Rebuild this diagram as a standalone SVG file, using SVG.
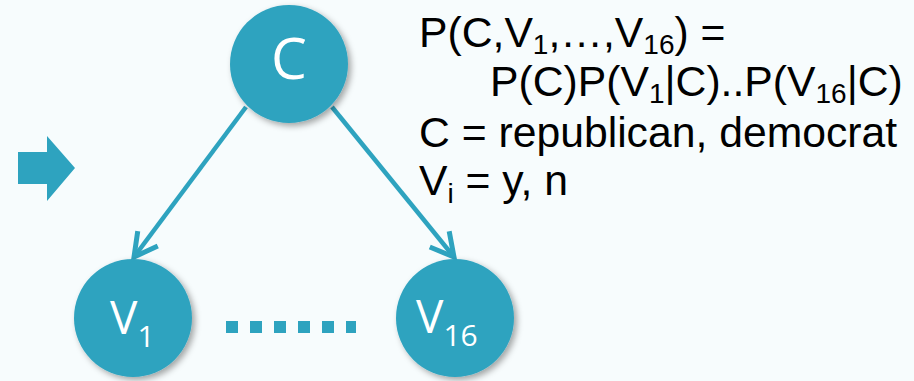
<svg xmlns="http://www.w3.org/2000/svg" width="914" height="381" viewBox="0 0 914 381">
  <style>
    .node { fill: #2EA3BF; filter: url(#shadow); }
    .nlabel { fill: #ffffff; font-family: "Open Sans", "Liberation Sans", sans-serif; }
    .edge { stroke: #2EA3BF; stroke-width: 4.5; fill: none; }
    .eq { fill: #000000; font-family: "Liberation Sans", Arial, sans-serif; font-size: 42.7px; }
    .sub { font-size: 28px; }
  </style>
  <defs>
    <filter id="shadow" x="-20%" y="-20%" width="150%" height="150%">
      <feGaussianBlur in="SourceAlpha" stdDeviation="3"/>
      <feOffset dx="3" dy="3" result="b"/>
      <feFlood flood-color="#000000" flood-opacity="0.35"/>
      <feComposite in2="b" operator="in"/>
      <feMerge>
        <feMergeNode/>
        <feMergeNode in="SourceGraphic"/>
      </feMerge>
    </filter>
    <marker id="head" markerUnits="userSpaceOnUse" orient="auto" refX="0" refY="0" markerWidth="40" markerHeight="40" viewBox="-30 -20 40 40" overflow="visible">
      <path d="M-23,-12.5 L0,0 L-23,12.5" fill="none" stroke="#2EA3BF" stroke-width="5"/>
    </marker>
  </defs>

  <rect width="914" height="381" fill="#F7FCFD"/>

  <!-- block arrow on the left -->
  <polygon points="18,152 47,152 47,136 75,168 47,201 47,184 18,184" fill="#2EA3BF"/>

  <!-- connectors -->
  <g id="connectors">
    <line class="edge" x1="246" y1="107" x2="134" y2="257" marker-end="url(#head)"/>
    <line class="edge" x1="332" y1="107" x2="454" y2="257" marker-end="url(#head)"/>
    <line x1="226" y1="327" x2="356" y2="327" stroke="#2EA3BF" stroke-width="12" stroke-dasharray="12 12"/>
  </g>

  <!-- class node -->
  <g id="node-C">
    <circle class="node" cx="289" cy="64" r="59"/>
    <text class="nlabel" x="289" y="79" font-size="57" text-anchor="middle">C</text>
  </g>

  <!-- attribute nodes -->
  <g id="node-V1">
    <circle class="node" cx="133" cy="318" r="59"/>
    <text class="nlabel" x="110" y="334" font-size="46">V<tspan font-size="30" dy="13">1</tspan></text>
  </g>
  <g id="node-V16">
    <circle class="node" cx="455" cy="318" r="59"/>
    <text class="nlabel" x="416" y="333" font-size="46">V<tspan font-size="30" dy="13">16</tspan></text>
  </g>

  <!-- joint distribution text -->
  <g id="equations">
    <text class="eq" x="419" y="47">P(C,V<tspan class="sub" dy="7">1</tspan><tspan dy="-7">,…,V</tspan><tspan class="sub" dy="7">16</tspan><tspan dy="-7">) =</tspan></text>
    <text class="eq" x="490" y="96">P(C)P(V<tspan class="sub" dy="7">1</tspan><tspan dy="-7">|C)..P(V</tspan><tspan class="sub" dy="7">16</tspan><tspan dy="-7">|C)</tspan></text>
    <text class="eq" x="419" y="147">C = republican, democrat</text>
    <text class="eq" x="419" y="195">V<tspan class="sub" dy="8">i</tspan><tspan dy="-8"> = y, n</tspan></text>
  </g>
</svg>
